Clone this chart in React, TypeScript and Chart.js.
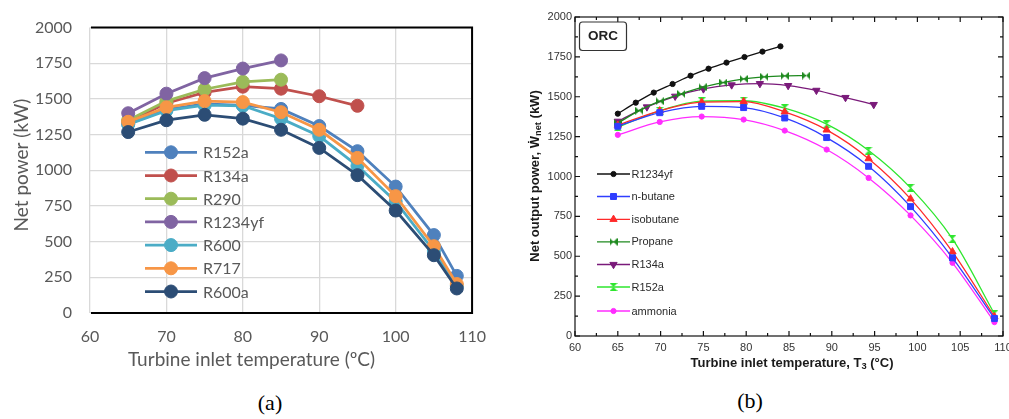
import React, { useEffect, useRef } from "react";
import { Chart, registerables } from "chart.js";
import { drawPoint } from "chart.js/helpers";

Chart.register(...registerables);

// ---------- Chart (a) data ----------
const tempsA = [65, 70, 75, 80, 85, 90, 95, 100, 105, 108];
const namesA = ["R152a", "R134a", "R290", "R1234yf", "R600", "R717", "R600a"];
const a_R152a = [1325, 1425, 1465, 1455, 1430, 1310, 1134, 886, 546, 260];
const a_R134a = [1340, 1470, 1546, 1586, 1572, 1519, 1452];
const a_R290 = [1351, 1485, 1568, 1620, 1635];
const a_R1234yf = [1400, 1537, 1646, 1713, 1770];
const a_R600 = [1322, 1418, 1456, 1452, 1362, 1240, 1031, 781, 435, 190];
const a_R717 = [1340, 1441, 1485, 1478, 1407, 1284, 1087, 819, 468, 203];
const a_R600a = [1268, 1351, 1389, 1362, 1284, 1157, 966, 718, 405, 172];
const seriesA = [a_R152a, a_R134a, a_R290, a_R1234yf, a_R600, a_R717, a_R600a];
const yTicksA = [0, 250, 500, 750, 1000, 1250, 1500, 1750, 2000];
const xTicksA = [60, 70, 80, 90, 100, 110];

// ---------- Chart (b) data ----------
const namesB = ["R1234yf", "n-butane", "isobutane", "Propane", "R134a", "R152a", "ammonia"];
const b_x_R1234yf = [65, 67.1, 69.2, 71.4, 73.5, 75.6, 77.7, 79.8, 81.9, 84];
const b_R1234yf = [1394, 1463, 1526, 1580, 1632, 1676, 1714, 1749, 1783, 1816];
const b_x_Propane = [65, 67.5, 69.9, 72.4, 74.9, 77.3, 79.7, 82.1, 84.5, 87];
const b_Propane = [1335, 1413, 1472, 1518, 1560, 1589, 1612, 1625, 1631, 1633];
const b_x_R134a = [65, 68.4, 71.7, 75, 78.3, 81.6, 84.9, 88.2, 91.6, 94.9];
const b_R134a = [1346, 1436, 1503, 1549, 1574, 1582, 1570, 1540, 1495, 1451];
const b_x_common = [65, 69.9, 74.8, 79.7, 84.5, 89.4, 94.3, 99.2, 104.1, 109];
const b_nButane = [1315, 1400, 1440, 1432, 1367, 1244, 1064, 811, 490, 110];
const b_isobutane = [1322, 1412, 1466, 1470, 1405, 1292, 1112, 860, 528, 122];
const b_R152a = [1309, 1412, 1472, 1475, 1428, 1328, 1163, 929, 609, 139];
const b_ammonia = [1261, 1342, 1376, 1357, 1288, 1169, 991, 756, 459, 87];
const xValsB = [b_x_R1234yf, b_x_common, b_x_common, b_x_Propane, b_x_R134a, b_x_common, b_x_common];
const yValsB = [b_R1234yf, b_nButane, b_isobutane, b_Propane, b_R134a, b_R152a, b_ammonia];

// ---------- styles ----------
const colorsA = ["#4F81BD", "#C0504D", "#9BBB59", "#8064A2", "#4BACC6", "#F79646", "#2C4D75"];
const colorsB = ["#111111", "#2f3dff", "#ff2a2a", "#1f8a1f", "#7a1a7a", "#2ee62e", "#ff2cff"];
const fontA = "Lato, 'Open Sans', sans-serif";
const fontB = "'Liberation Sans', Arial, 'DejaVu Sans', sans-serif";

function makeBowtie(color: string, vertical: boolean): HTMLCanvasElement {
  const c = document.createElement("canvas");
  const s = 8;
  c.width = s;
  c.height = s;
  const g = c.getContext("2d")!;
  g.fillStyle = color;
  g.beginPath();
  if (vertical) {
    g.moveTo(0, 0); g.lineTo(s, 0); g.lineTo(s / 2, s / 2); g.closePath();
    g.moveTo(0, s); g.lineTo(s, s); g.lineTo(s / 2, s / 2); g.closePath();
  } else {
    g.moveTo(0, 0); g.lineTo(0, s); g.lineTo(s / 2, s / 2); g.closePath();
    g.moveTo(s, 0); g.lineTo(s, s); g.lineTo(s / 2, s / 2); g.closePath();
  }
  g.fill();
  return c;
}

type Part = { text: string; sub?: boolean };
function drawRich(ctx: CanvasRenderingContext2D, parts: Part[], cx: number, cy: number, rot: number, size: number, family: string, bold: boolean, color: string) {
  ctx.save();
  ctx.translate(cx, cy);
  ctx.rotate(rot);
  ctx.fillStyle = color;
  ctx.textBaseline = "middle";
  ctx.textAlign = "left";
  const w = (b: boolean, s: number) => `${b ? "bold " : ""}${s}px ${family}`;
  let total = 0;
  const widths = parts.map((p) => {
    ctx.font = w(bold, p.sub ? size * 0.72 : size);
    const m = ctx.measureText(p.text).width;
    total += m;
    return m;
  });
  let x = -total / 2;
  parts.forEach((p, i) => {
    ctx.font = w(bold, p.sub ? size * 0.72 : size);
    ctx.fillText(p.text, x, p.sub ? size * 0.3 : 0);
    x += widths[i];
  });
  ctx.restore();
}

const pluginA = {
  id: "decorA",
  afterDraw(chart: any) {
    const ctx: CanvasRenderingContext2D = chart.ctx;
    const { left, right, top, bottom } = chart.chartArea;
    ctx.save();
    ctx.strokeStyle = "#000";
    ctx.lineWidth = 2;
    ctx.beginPath();
    ctx.moveTo(left + 1, top);
    ctx.lineTo(right, top);
    ctx.lineTo(right, bottom);
    ctx.lineTo(left + 1, bottom);
    ctx.stroke();
    ctx.restore();

    // legend
    chart.data.datasets.forEach((ds: any, i: number) => {
      const y = 152.3 + i * 23.2;
      ctx.save();
      ctx.strokeStyle = ds.borderColor;
      ctx.lineWidth = 2.75;
      ctx.beginPath();
      ctx.moveTo(145, y);
      ctx.lineTo(197, y);
      ctx.stroke();
      ctx.fillStyle = ds.borderColor;
      ctx.lineWidth = 1;
      drawPoint(ctx, { pointStyle: "circle", radius: 6.5, borderWidth: 1, rotation: 0 } as any, 171, y);
      ctx.fillStyle = "#595959";
      ctx.font = `16px ${fontA}`;
      ctx.textBaseline = "middle";
      ctx.textAlign = "left";
      ctx.fillText(ds.label, 203, y + 1);
      ctx.restore();
    });

    drawRich(ctx, [{ text: "Turbine inlet temperature (ºC)" }], 251.5, 360, 0, 19, fontA, false, "#595959");
    drawRich(ctx, [{ text: "Net power (kW)" }], 22, 165, -Math.PI / 2, 19, fontA, false, "#595959");
  },
};

const pointOpts = (i: number, color: string) => {
  const styles: any[] = [
    { pointStyle: "circle", r: 2.6, rot: 0 },
    { pointStyle: "rect", r: 4.2, rot: 0 },
    { pointStyle: "triangle", r: 4.2, rot: 0 },
    { pointStyle: makeBowtie(color, false), r: 4, rot: 0 },
    { pointStyle: "triangle", r: 4.2, rot: 180 },
    { pointStyle: makeBowtie(color, true), r: 4, rot: 0 },
    { pointStyle: "circle", r: 2.6, rot: 0 },
  ];
  return styles[i];
};

const pluginB = {
  id: "decorB",
  afterDraw(chart: any) {
    const ctx: CanvasRenderingContext2D = chart.ctx;
    const { left, right, top, bottom } = chart.chartArea;
    const xs = chart.scales.x;
    const ys = chart.scales.y;
    ctx.save();
    ctx.strokeStyle = "#111";
    ctx.lineWidth = 1.2;
    ctx.strokeRect(left, top, right - left, bottom - top);
    ctx.beginPath();
    for (let v = 60; v <= 110.001; v += 2.5) {
      const px = xs.getPixelForValue(v);
      const L = Math.abs(v % 5) < 0.01 ? 5 : 3;
      ctx.moveTo(px, bottom); ctx.lineTo(px, bottom - L);
      ctx.moveTo(px, top); ctx.lineTo(px, top + L);
    }
    for (let v = 0; v <= 2000.001; v += 125) {
      const py = ys.getPixelForValue(v);
      const L = v % 250 === 0 ? 5 : 3;
      ctx.moveTo(left, py); ctx.lineTo(left + L, py);
      ctx.moveTo(right, py); ctx.lineTo(right - L, py);
    }
    ctx.stroke();

    // ORC box
    ctx.lineWidth = 1.2;
    ctx.strokeStyle = "#333";
    ctx.beginPath();
    (ctx as any).roundRect(59.5, 22, 47, 28.5, 3);
    ctx.stroke();
    ctx.fillStyle = "#222";
    ctx.font = `bold 13.5px ${fontB}`;
    ctx.textAlign = "center";
    ctx.textBaseline = "middle";
    ctx.fillText("ORC", 83, 36.5);
    ctx.restore();

    // legend
    const rows = [174, 196.5, 219.3, 241.8, 264.5, 287, 311];
    chart.data.datasets.forEach((ds: any, i: number) => {
      const y = rows[i];
      ctx.save();
      ctx.strokeStyle = ds.borderColor;
      ctx.lineWidth = 1.3;
      ctx.beginPath();
      ctx.moveTo(77, y);
      ctx.lineTo(110, y);
      ctx.stroke();
      ctx.fillStyle = ds.borderColor;
      ctx.lineWidth = 1;
      drawPoint(ctx, { pointStyle: ds.pointStyle, radius: ds.pointRadius, borderWidth: 1, rotation: ds.pointRotation || 0 } as any, 93.5, y);
      ctx.fillStyle = "#2a2a2a";
      ctx.font = `11px ${fontB}`;
      ctx.textAlign = "left";
      ctx.textBaseline = "middle";
      ctx.fillText(ds.label, 111.5, y + 0.5);
      ctx.restore();
    });

    drawRich(ctx, [{ text: "Turbine inlet temperature, T" }, { text: "3", sub: true }, { text: " (°C)" }], 272, 363, 0, 13, fontB, true, "#1a1a1a");
    drawRich(ctx, [{ text: "Net output power, Ẇ" }, { text: "net", sub: true }, { text: " (kW)" }], 15, 176, -Math.PI / 2, 13, fontB, true, "#1a1a1a");
  },
};

const plain = (v: any) => String(v);

function configA(): any {
  return {
    type: "line",
    data: {
      datasets: namesA.map((name, i) => ({
        label: name,
        data: seriesA[i].map((y, j) => ({ x: tempsA[j], y })),
        borderColor: colorsA[i],
        backgroundColor: colorsA[i],
        pointBackgroundColor: colorsA[i],
        pointBorderColor: colorsA[i],
        pointRadius: 6.5,
        pointBorderWidth: 1,
        borderWidth: 2.75,
        tension: 0,
        order: namesA.length - i,
      })),
    },
    options: {
      responsive: false,
      animation: false,
      layout: { padding: { top: 15, right: 20, left: 0, bottom: 0 } },
      plugins: { legend: { display: false }, tooltip: { enabled: false } },
      scales: {
        x: {
          type: "linear",
          min: xTicksA[0],
          max: xTicksA[xTicksA.length - 1],
          afterBuildTicks: (s: any) => { s.ticks = xTicksA.map((v) => ({ value: v })); },
          ticks: { padding: 14, color: "#595959", font: { family: fontA, size: 16 }, callback: plain },
          grid: { color: "#d9d9d9", lineWidth: 1.3, drawTicks: false },
          border: { display: false },
          afterFit: (s: any) => { s.height = 67; },
        },
        y: {
          type: "linear",
          min: yTicksA[0],
          max: yTicksA[yTicksA.length - 1],
          afterBuildTicks: (s: any) => { s.ticks = yTicksA.map((v) => ({ value: v })); },
          ticks: { padding: 18, color: "#595959", font: { family: fontA, size: 16 }, callback: plain },
          grid: { color: "#d9d9d9", lineWidth: 1.3, drawTicks: false },
          border: { display: false },
          afterFit: (s: any) => { s.width = 90; },
        },
      },
    },
    plugins: [pluginA],
  };
}

function configB(): any {
  return {
    type: "line",
    data: {
      datasets: namesB.map((name, i) => {
        const p = pointOpts(i, colorsB[i]);
        return {
          label: name,
          data: yValsB[i].map((y, j) => ({ x: xValsB[i][j], y })),
          borderColor: colorsB[i],
          backgroundColor: colorsB[i],
          pointBackgroundColor: colorsB[i],
          pointBorderColor: colorsB[i],
          pointStyle: p.pointStyle,
          pointRadius: p.r,
          pointRotation: p.rot,
          pointBorderWidth: 1,
          borderWidth: 1.3,
          tension: 0.4,
          cubicInterpolationMode: "monotone",
        };
      }),
    },
    options: {
      responsive: false,
      animation: false,
      layout: { padding: { top: 17, right: 17, left: 0, bottom: 0 } },
      plugins: { legend: { display: false }, tooltip: { enabled: false } },
      scales: {
        x: {
          type: "linear",
          min: 60,
          max: 110,
          ticks: { stepSize: 5, padding: 5, color: "#333", font: { family: fontB, size: 11 }, callback: plain },
          grid: { display: false, drawTicks: false },
          border: { display: false },
          afterFit: (s: any) => { s.height = 44; },
        },
        y: {
          type: "linear",
          min: 0,
          max: 2000,
          ticks: { stepSize: 250, padding: 3, color: "#333", font: { family: fontB, size: 11 }, callback: plain },
          grid: { display: false, drawTicks: false },
          border: { display: false },
          afterFit: (s: any) => { s.width = 55; },
        },
      },
    },
    plugins: [pluginB],
  };
}

export default function App() {
  const refA = useRef<HTMLCanvasElement>(null);
  const refB = useRef<HTMLCanvasElement>(null);
  useEffect(() => {
    const chartA = new Chart(refA.current!, configA());
    const chartB = new Chart(refB.current!, configB());
    return () => {
      chartA.destroy();
      chartB.destroy();
    };
  }, []);
  const caption: React.CSSProperties = {
    position: "absolute",
    fontFamily: "'Liberation Serif', 'Times New Roman', serif",
    fontSize: 22,
    color: "#000",
    lineHeight: "24px",
    transform: "translate(-50%, -50%)",
    whiteSpace: "nowrap",
  };
  return (
    <div style={{ position: "absolute", left: 0, top: 0, width: 1009, height: 419, overflow: "hidden", background: "#fff" }}>
      <canvas ref={refA} width={500} height={380} style={{ position: "absolute", left: 0, top: 0, width: 500, height: 380 }} />
      <canvas ref={refB} width={500} height={380} style={{ position: "absolute", left: 520, top: 0, width: 500, height: 380 }} />
      <div style={{ ...caption, left: 270, top: 403 }}>(a)</div>
      <div style={{ ...caption, left: 750, top: 401 }}>(b)</div>
    </div>
  );
}
